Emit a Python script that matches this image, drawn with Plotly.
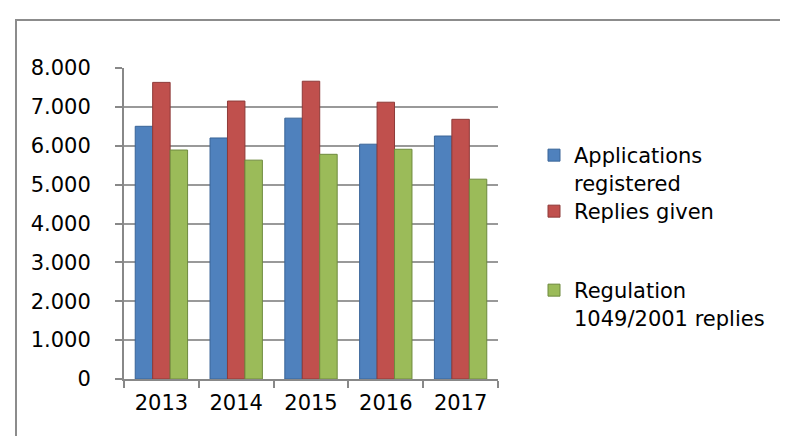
import plotly.graph_objects as go

years = ["2013", "2014", "2015", "2016", "2017"]
applications = [6500, 6200, 6710, 6040, 6250]
replies = [7630, 7150, 7660, 7120, 6680]
regulation = [5890, 5630, 5780, 5910, 5140]
series_names = ["Applications<br>registered", "Replies given", "Regulation<br>1049/2001 replies"]
colors = ["#4F81BD", "#C0504D", "#9BBB59"]
edge_colors = ["#3A6598", "#8E3A38", "#6E8A3E"]

W, H = 788, 436
L, R, T, B = 116, 298, 60, 65
plot_w = W - L - R
plot_h = H - T - B

legend_ids = ["legend", "legend2", "legend3"]
legend_tops = [127, 183, 262]

font = "'DejaVu Sans', sans-serif"
fs = 21

fig = go.Figure()
for name, vals, c, e, lid in zip(series_names, [applications, replies, regulation], colors, edge_colors, legend_ids):
    fig.add_trace(go.Bar(x=years, y=vals, name=name, legend=lid,
                         marker=dict(color=c, line=dict(color=e, width=1))))

legend_left_px = 526
leg_common = dict(xanchor="left", yanchor="top", font=dict(family=font, size=fs),
                  valign="top", bgcolor="rgba(0,0,0,0)", itemwidth=30)
legends = {}
for lid, top in zip(legend_ids, legend_tops):
    legends[lid] = dict(x=(legend_left_px - L) / plot_w, y=1 - (top - T) / plot_h, **leg_common)

fig.update_layout(
    width=W, height=H,
    margin=dict(l=L, r=R, t=T, b=B),
    paper_bgcolor="white", plot_bgcolor="white",
    barmode="group", bargap=0.3, bargroupgap=0,
    separators=",.",
    font=dict(family=font, size=fs, color="#000"),
    showlegend=True,
    xaxis=dict(type="category", tickson="boundaries", ticks="outside", ticklen=7,
               tickcolor="#888", tickwidth=2, showline=True, linecolor="#888", linewidth=2,
               showgrid=False, tickfont=dict(size=fs), ticklabelstandoff=4),
    yaxis=dict(range=[0, 8000], dtick=1000, tickformat=",.0f", ticks="outside", ticklen=7,
               tickcolor="#888", tickwidth=2, showline=True, linecolor="#888", linewidth=2,
               showgrid=True, gridcolor="#999", gridwidth=2, zeroline=False,
               tickfont=dict(size=fs), ticklabelstandoff=20),
    **legends,
)

# outer chart frame
fig.add_shape(type="rect", xref="paper", yref="paper",
              x0=(8 - L) / plot_w, x1=(W + 10 - L) / plot_w,
              y0=-(H + 10 - (H - B)) / plot_h, y1=1 + (T - 12) / plot_h,
              line=dict(color="#8c8c8c", width=2), fillcolor="rgba(0,0,0,0)", layer="below")

fig.write_html("out.html")
